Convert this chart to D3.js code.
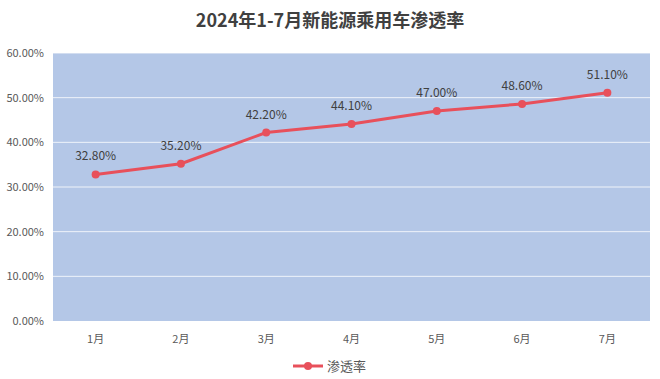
<!DOCTYPE html>
<html>
<head>
<meta charset="utf-8">
<script src="https://cdn.jsdelivr.net/npm/d3@7"></script>
<style>
  body { margin: 0; background: #fff; }
  text { font-family: "Noto Sans CJK SC", "Liberation Sans", sans-serif; }
</style>
</head>
<body>
<svg id="chart"></svg>
<script>
let width = 660;
let height = 379;

const months = ["1月", "2月", "3月", "4月", "5月", "6月", "7月"];
const rates = [32.8, 35.2, 42.2, 44.1, 47.0, 48.6, 51.1];
const yTicks = [0, 10, 20, 30, 40, 50, 60];
const seriesName = "渗透率";
const title = "2024年1-7月新能源乘用车渗透率";

const plot = { left: 53, right: 650, top: 53, bottom: 321 };
const lineColor = "#e8505b";

const svg = d3.select("#chart").attr("width", width).attr("height", height);

const x = d3.scaleBand().domain(months).range([plot.left, plot.right]);
const y = d3.scaleLinear().domain([0, 60]).range([plot.bottom, plot.top]);

svg.append("text")
	.attr("x", width / 2)
	.attr("y", 27)
	.attr("text-anchor", "middle")
	.attr("font-size", 18)
	.attr("font-weight", "bold")
	.attr("fill", "#404040")
	.text(title);

// plot background
svg.append("rect")
	.attr("x", plot.left)
	.attr("y", plot.top)
	.attr("width", plot.right - plot.left)
	.attr("height", plot.bottom - plot.top)
	.attr("fill", "#b4c7e7");

// grid lines
svg.append("g")
	.selectAll("line")
	.data(yTicks.slice(1))
	.enter()
	.append("line")
	.attr("x1", plot.left)
	.attr("x2", plot.right)
	.attr("y1", (d) => y(d))
	.attr("y2", (d) => y(d))
	.attr("stroke", "#ffffff")
	.attr("stroke-width", 1)
	.attr("opacity", 0.8);

// y labels
svg.append("g")
	.selectAll("text")
	.data(yTicks)
	.enter()
	.append("text")
	.attr("x", 44)
	.attr("y", (d) => y(d) + 4)
	.attr("text-anchor", "end")
	.attr("font-size", 11)
	.attr("fill", "#595959")
	.text((d) => d.toFixed(2) + "%");

// x labels
svg.append("g")
	.selectAll("text")
	.data(months)
	.enter()
	.append("text")
	.attr("x", (d) => x(d) + x.bandwidth() / 2)
	.attr("y", 343)
	.attr("text-anchor", "middle")
	.attr("font-size", 11)
	.attr("fill", "#595959")
	.text((d) => d);

const pts = months.map((m, i) => ({ m: m, v: rates[i] }));

const line = d3.line()
	.x((d) => x(d.m) + x.bandwidth() / 2)
	.y((d) => y(d.v));

svg.append("path")
	.datum(pts)
	.attr("d", line)
	.attr("fill", "none")
	.attr("stroke", lineColor)
	.attr("stroke-width", 3)
	.attr("stroke-linejoin", "round");

svg.append("g")
	.selectAll("circle")
	.data(pts)
	.enter()
	.append("circle")
	.attr("cx", (d) => x(d.m) + x.bandwidth() / 2)
	.attr("cy", (d) => y(d.v))
	.attr("r", 4)
	.attr("fill", lineColor);

svg.append("g")
	.selectAll("text")
	.data(pts)
	.enter()
	.append("text")
	.attr("x", (d) => x(d.m) + x.bandwidth() / 2)
	.attr("y", (d) => y(d.v) - 14)
	.attr("text-anchor", "middle")
	.attr("font-size", 12)
	.attr("fill", "#404040")
	.text((d) => d.v.toFixed(2) + "%");

// legend
const lg = svg.append("g").attr("transform", "translate(293,366)");
lg.append("line")
	.attr("x1", 0).attr("x2", 30)
	.attr("y1", 0).attr("y2", 0)
	.attr("stroke", lineColor)
	.attr("stroke-width", 3);
lg.append("circle")
	.attr("cx", 15).attr("cy", 0).attr("r", 4)
	.attr("fill", lineColor);
lg.append("text")
	.attr("x", 34).attr("y", 5)
	.attr("font-size", 13)
	.attr("fill", "#595959")
	.text(seriesName);
</script>
</body>
</html>
